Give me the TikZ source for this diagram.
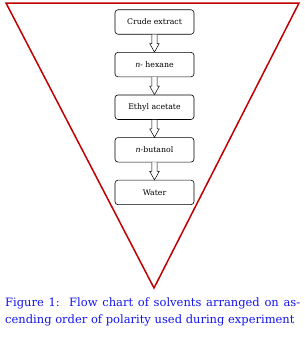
\documentclass[tikz,border=0pt]{standalone}
\usepackage{fontspec}
\setmainfont{DejaVu Serif}
\usetikzlibrary{calc,positioning}
\definecolor{fcFunnel}{HTML}{C00000}
\definecolor{fcCaption}{HTML}{1414F0}
\tikzset{
  fc diagram/.style={font=\fontsize{7.8}{9}\selectfont, line join=miter},
  fc box/.style={draw=black, fill=white, line width=0.6pt,
    rounded corners=3pt, minimum width=79pt, minimum height=24.5pt,
    align=center, inner sep=2pt},
  fc arrow/.style={draw=black, fill=white, line width=0.5pt},
  fc funnel/.style={draw=fcFunnel, line width=1.5pt},
  fc caption/.style={text=fcCaption, font=\fontsize{11.5}{17}\selectfont,
    text width=295pt, align=justify, inner sep=0pt}
}

\begin{document}
\begin{tikzpicture}[fc diagram,x=1pt,y=-1pt]
\useasboundingbox (0,0) rectangle (305,343);
\coordinate (top left) at (6,3);
\coordinate (top right) at (299,3);
\coordinate (apex) at (154,288);
\draw[fc funnel] (top left) -- (top right) -- (apex) -- cycle;
\node[fc box] (crude) at (154.5,22) {Crude extract};
\node[fc box,below=17.5pt of crude] (hexane) {\textit{n}- hexane};
\node[fc box,below=17.5pt of hexane] (ethyl) {Ethyl acetate};
\node[fc box,below=17.5pt of ethyl] (butanol) {\textit{n}-butanol};
\node[fc box,below=17.5pt of butanol] (water) {Water};
% hollow block arrows between the boxes
\foreach \a/\b in {crude/hexane,hexane/ethyl,ethyl/butanol,butanol/water}
  \draw[fc arrow] ($(\a.south)+(-2.6,0)$) -- ($(\b.north)+(-2.6,-8.5)$)
    -- ++(-2.2,0) -- (\b.north) -- ++(4.8,-8.5) -- ++(-2.2,0)
    -- ($(\a.south)+(2.6,0)$);
\node[fc caption,anchor=north west] (caption) at (5,297.5)
  {Figure 1:\ \ Flow chart of solvents arranged on as-\linebreak
   cending order of polarity used during experiment};
\end{tikzpicture}
\end{document}
